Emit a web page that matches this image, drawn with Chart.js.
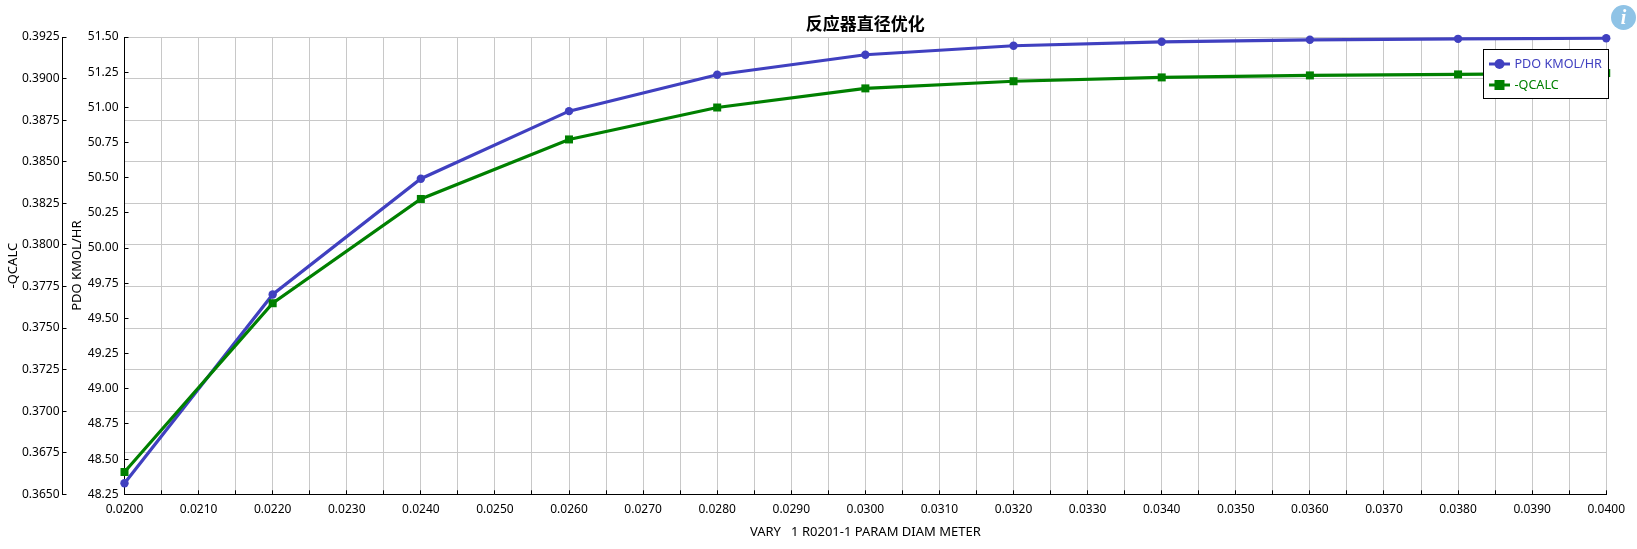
<!DOCTYPE html>
<html>
<head>
<meta charset="utf-8">
<title>反应器直径优化</title>
<script src="https://cdn.jsdelivr.net/npm/chart.js@4"></script>
<style>
  html, body { margin: 0; padding: 0; background: #fff; }
  #wrap { position: relative; width: 1637px; height: 549px; overflow: hidden; }
  #info {
    position: absolute; left: 1611px; top: 5px; width: 25px; height: 25px; border-radius: 50%;
    background: #8fc3e6; color: #fff; text-align: center; line-height: 25px;
    font: italic bold 20px/25px "Liberation Serif", serif;
  }
</style>
</head>
<body>
<div id="wrap">
  <canvas id="chart" width="1637" height="549"></canvas>
  <div id="info">i</div>
</div>
<script>
// values
var diam = [0.020, 0.022, 0.024, 0.026, 0.028, 0.030, 0.032, 0.034, 0.036, 0.038, 0.040];
var pdo = [48.328, 49.670, 50.493, 50.973, 51.232, 51.374, 51.438, 51.466, 51.480, 51.487, 51.491];
var qcalc = [0.36634, 0.37649, 0.38276, 0.38634, 0.38826, 0.38941, 0.38984, 0.39007, 0.39019, 0.39025, 0.39033];

var BLUE = '#4040c0';
var GREEN = '#008000';
var GRID = '#c8c8c8';
var FONT = '"Noto Sans", sans-serif';

function toPoints(xs, ys) {
  return xs.map(function (x, i) { return { x: x, y: ys[i] }; });
}

// legend sits over the plot and over the marks, so it is drawn last
var boxLegend = {
  id: 'boxLegend',
  afterDraw: function (chart) {
    var ctx = chart.ctx;
    ctx.save();
    ctx.fillStyle = '#fff';
    ctx.fillRect(1483.5, 49.5, 125, 49);
    ctx.strokeStyle = '#000';
    ctx.lineWidth = 1;
    ctx.strokeRect(1483.5, 49.5, 125, 49);
    ctx.font = '12.6px ' + FONT;
    ctx.textBaseline = 'middle';
    chart.data.datasets.forEach(function (ds, i) {
      var y = 64 + i * 21;
      ctx.strokeStyle = ds.borderColor;
      ctx.fillStyle = ds.borderColor;
      ctx.lineWidth = 3;
      ctx.beginPath();
      ctx.moveTo(1489, y);
      ctx.lineTo(1510, y);
      ctx.stroke();
      if (ds.pointStyle === 'circle') {
        ctx.beginPath();
        ctx.arc(1499.5, y, 5, 0, Math.PI * 2);
        ctx.fill();
      } else {
        ctx.fillRect(1494.5, y - 5, 10, 10);
      }
      ctx.fillText(ds.label, 1514.5, y);
    });
    ctx.restore();
  }
};

new Chart(document.getElementById('chart').getContext('2d'), {
  type: 'line',
  data: {
    datasets: [{
      label: 'PDO KMOL/HR',
      data: toPoints(diam, pdo),
      yAxisID: 'y1',
      borderColor: BLUE,
      backgroundColor: BLUE,
      borderWidth: 3.2,
      pointStyle: 'circle',
      pointRadius: 4.2,
      pointBorderWidth: 0,
      clip: false,
      order: 2
    }, {
      label: '-QCALC',
      data: toPoints(diam, qcalc),
      yAxisID: 'y',
      borderColor: GREEN,
      backgroundColor: GREEN,
      borderWidth: 3.2,
      pointStyle: 'rect',
      pointRadius: 5.66,
      pointBorderWidth: 0,
      clip: false,
      order: 1
    }]
  },
  options: {
    responsive: false,
    animation: false,
    layout: { padding: { left: 0, right: 28, top: 0, bottom: 0 } },
    plugins: {
      legend: { display: false },
      tooltip: { enabled: false },
      title: {
        display: true,
        fullSize: false,
        text: '反应器直径优化',
        color: '#000',
        font: { family: '"Noto Sans CJK SC"', size: 17, weight: 'bold' },
        padding: { top: 13, bottom: 3.6 }
      }
    },
    scales: {
      x: {
        type: 'linear',
        min: 0.02,
        max: 0.04,
        border: { color: '#000', width: 1 },
        grid: { color: GRID, tickColor: '#000', tickLength: -4 },
        afterFit: function (scale) { scale.height = 54.7; },
        ticks: {
          stepSize: 0.0005,
          autoSkip: false,
          maxRotation: 0,
          padding: 12,
          color: '#000',
          font: { family: FONT, size: 12 },
          callback: function (v) {
            return Math.round(v * 10000) % 10 === 0 ? v.toFixed(4) : '';
          }
        },
        title: {
          display: true,
          text: 'VARY   1 R0201-1 PARAM DIAM METER',
          color: '#000',
          font: { family: FONT, size: 13 },
          padding: { top: 0, bottom: 9 }
        }
      },
      y: {
        position: 'left',
        weight: 2,
        min: 0.365,
        max: 0.3925,
        border: { color: '#000', width: 1 },
        grid: { color: GRID, tickColor: '#000', tickLength: -4 },
        afterFit: function (scale) { scale.width = 62.5; },
        ticks: {
          stepSize: 0.0025,
          autoSkip: false,
          padding: 7,
          color: '#000',
          font: { family: FONT, size: 12 },
          callback: function (v) { return v.toFixed(4); }
        },
        title: {
          display: true,
          text: '-QCALC',
          color: '#000',
          font: { family: FONT, size: 13 },
          padding: { top: 5, bottom: 0 }
        }
      },
      y1: {
        position: 'left',
        weight: 1,
        min: 48.25,
        max: 51.5,
        border: { color: '#000', width: 1 },
        grid: { drawOnChartArea: false, tickColor: '#000', tickLength: -4 },
        afterFit: function (scale) { scale.width = 62; },
        ticks: {
          stepSize: 0.25,
          autoSkip: false,
          padding: 10,
          color: '#000',
          font: { family: FONT, size: 12 },
          callback: function (v) { return v.toFixed(2); }
        },
        title: {
          display: true,
          text: 'PDO KMOL/HR',
          color: '#000',
          font: { family: FONT, size: 13 },
          padding: { top: 7, bottom: 0 }
        }
      }
    }
  },
  plugins: [boxLegend]
});
</script>
</body>
</html>
